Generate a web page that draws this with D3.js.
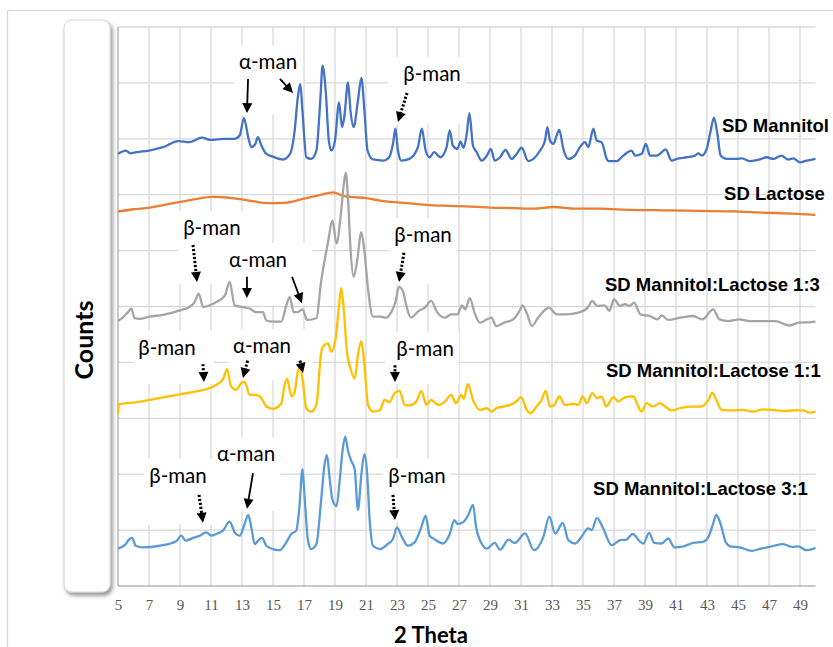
<!DOCTYPE html>
<html><head><meta charset="utf-8">
<script src="https://cdn.jsdelivr.net/npm/d3@7"></script>
<style>body{margin:0;background:#fff}svg{display:block}</style>
</head><body>
<svg id="chart" width="833" height="647"></svg>
<script>
// ---------- DATA (2θ, counts in arbitrary units; one grid step = 1) ----------
const xTickLabels = [5,7,9,11,13,15,17,19,21,23,25,27,29,31,33,35,37,39,41,43,45,47,49];
const yGridValues = [0,1,2,3,4,5,6,7,8,9,10];

const sdMannitol = [[5,7.73],[5.5,7.79],[5.8,7.74],[6.2,7.76],[7,7.79],[7.9,7.85],[8.9,7.96],[9.6,7.94],[10.4,8.02],[11,7.98],[11.8,8.0],[12.5,8.0],[12.85,8.06],[13.13,8.37],[13.4,8.03],[13.6,7.85],[13.86,7.91],[14.03,8.03],[14.25,7.88],[14.57,7.73],[15,7.68],[15.65,7.63],[16.1,7.73],[16.4,8.15],[16.6,8.74],[16.76,8.98],[16.9,8.5],[17.15,7.67],[17.47,7.64],[17.8,7.79],[18.05,8.68],[18.2,9.31],[18.4,8.86],[18.6,7.97],[18.76,7.79],[19,7.97],[19.26,8.65],[19.45,8.21],[19.6,8.39],[19.84,9.01],[20.0,8.5],[20.2,8.21],[20.48,8.68],[20.7,9.09],[20.9,8.5],[21.1,7.79],[21.45,7.63],[22.1,7.61],[22.5,7.67],[22.74,7.91],[22.9,8.18],[23.06,7.79],[23.28,7.61],[23.8,7.64],[24.35,7.85],[24.6,8.18],[24.85,7.79],[25.1,7.67],[25.4,7.76],[25.8,7.67],[26.2,7.85],[26.4,8.15],[26.6,7.88],[26.9,7.82],[27.1,7.95],[27.3,7.84],[27.5,8.09],[27.67,8.46],[27.9,7.88],[28.14,7.76],[28.46,7.61],[28.8,7.70],[29.06,7.82],[29.3,7.61],[29.65,7.67],[30.0,7.80],[30.4,7.64],[30.72,7.73],[31.04,7.84],[31.47,7.60],[31.8,7.64],[32.23,7.79],[32.55,7.97],[32.7,8.21],[32.87,7.97],[33.09,7.91],[33.3,8.06],[33.47,8.16],[33.73,7.82],[34.05,7.64],[34.48,7.70],[34.8,7.85],[35.13,7.94],[35.34,7.85],[35.67,8.18],[35.88,7.97],[36.2,7.94],[36.53,7.64],[36.63,7.60],[37.17,7.60],[37.6,7.70],[38.14,7.79],[38.35,7.70],[38.78,7.73],[39.06,7.91],[39.32,7.70],[39.75,7.70],[40.08,7.76],[40.33,7.81],[40.72,7.61],[41.04,7.64],[41.69,7.67],[42.23,7.70],[42.44,7.74],[42.66,7.70],[42.98,7.82],[43.24,8.15],[43.45,8.38],[43.67,8.09],[43.88,7.70],[44.27,7.64],[44.9,7.64],[45.24,7.65],[45.77,7.60],[46.4,7.63],[46.85,7.67],[47.27,7.64],[47.8,7.70],[48.25,7.63],[48.57,7.65],[49,7.58],[49.43,7.61],[49.86,7.63],[50,7.64]];

const sdLactose = [[5,6.70],[6,6.74],[7.06,6.77],[8,6.82],[9,6.87],[10,6.92],[11.1,6.96],[12,6.95],[12.87,6.92],[13.8,6.88],[14.6,6.85],[15.9,6.86],[17,6.93],[17.8,6.98],[18.9,7.04],[19.5,6.98],[20,6.96],[21,6.94],[22,6.89],[23.2,6.86],[24,6.84],[25.3,6.81],[26.5,6.80],[27.5,6.79],[29,6.77],[30.5,6.76],[31.8,6.75],[33.1,6.78],[34.5,6.75],[36.1,6.75],[38,6.73],[40.4,6.72],[42.5,6.71],[44.7,6.70],[46.5,6.68],[48.5,6.66],[50,6.64]];

const mix13 = [[5,4.74],[5.3,4.8],[5.65,4.90],[5.86,4.96],[6.08,4.79],[6.4,4.78],[7.04,4.82],[7.9,4.85],[9,4.93],[9.6,4.99],[9.95,5.08],[10.2,5.23],[10.5,4.99],[10.9,5.02],[11.35,5.08],[11.9,5.2],[12.2,5.44],[12.53,5.02],[13.06,4.99],[13.5,4.96],[13.9,4.9],[14.35,4.9],[14.57,4.75],[15,4.73],[15.54,4.73],[15.86,5.02],[16.08,5.17],[16.33,4.9],[16.6,4.9],[16.9,4.95],[17.2,4.76],[17.8,4.79],[18.1,5.44],[18.55,6.15],[18.83,6.54],[19.1,6.13],[19.37,6.63],[19.56,7.17],[19.69,7.39],[19.84,6.93],[20,6.04],[20.2,5.53],[20.42,5.8],[20.7,6.33],[20.9,5.98],[21.13,5.32],[21.45,4.82],[21.9,4.82],[22.3,4.80],[22.63,4.9],[22.9,5.08],[23.13,5.35],[23.4,5.26],[23.6,5.02],[23.9,4.80],[24.4,4.92],[24.8,4.98],[25.2,5.1],[25.6,4.89],[26.1,4.80],[26.5,4.86],[26.9,4.86],[27.2,5.02],[27.4,4.95],[27.7,5.15],[28.0,4.89],[28.35,4.71],[28.8,4.77],[29.1,4.80],[29.4,4.65],[29.9,4.71],[30.5,4.77],[30.9,4.92],[31.1,5.02],[31.4,4.86],[31.7,4.65],[32.1,4.80],[32.6,4.95],[32.8,4.98],[33.3,4.86],[33.9,4.86],[34.7,4.89],[35.3,4.98],[35.6,5.1],[35.9,5.01],[36.4,5.02],[36.7,4.92],[37.0,5.13],[37.4,5.01],[37.7,5.04],[38.0,5.01],[38.3,5.07],[38.7,4.86],[39.3,4.83],[39.8,4.77],[40.1,4.84],[40.5,4.76],[41.3,4.80],[42.1,4.83],[42.7,4.77],[43.4,4.95],[43.8,4.77],[44.4,4.74],[45.1,4.77],[45.7,4.74],[46.6,4.74],[47.4,4.74],[48.3,4.66],[48.9,4.71],[49.7,4.72],[50,4.73]];

const mix11 = [[5,3.08],[5.05,3.25],[6,3.28],[7.04,3.33],[8,3.38],[9,3.43],[10.05,3.48],[10.7,3.52],[11.35,3.6],[11.8,3.71],[12.03,3.88],[12.3,3.57],[12.6,3.51],[12.96,3.63],[13.17,3.65],[13.5,3.42],[13.9,3.42],[14.25,3.36],[14.57,3.21],[15,3.17],[15.54,3.27],[15.75,3.6],[15.9,3.71],[16.2,3.39],[16.4,3.48],[16.6,3.83],[16.76,3.92],[16.9,3.71],[17.15,3.18],[17.47,3.12],[17.8,3.24],[18.1,4.16],[18.3,4.31],[18.55,4.34],[18.76,4.19],[19.04,4.43],[19.26,5.02],[19.4,5.33],[19.56,4.96],[19.77,4.19],[20,3.89],[20.27,3.71],[20.48,4.13],[20.7,4.38],[20.9,3.95],[21.13,3.24],[21.45,3.12],[21.9,3.15],[22.2,3.33],[22.5,3.29],[22.85,3.45],[23.17,3.49],[23.5,3.24],[23.8,3.23],[24.25,3.30],[24.57,3.49],[24.9,3.24],[25.2,3.33],[25.65,3.24],[26.1,3.30],[26.5,3.42],[26.8,3.27],[27.15,3.42],[27.3,3.35],[27.58,3.61],[27.9,3.33],[28.35,3.15],[28.8,3.18],[29.1,3.12],[29.4,3.18],[29.86,3.21],[30.3,3.24],[30.7,3.30],[31.0,3.38],[31.37,3.15],[31.6,3.09],[32.0,3.21],[32.33,3.33],[32.6,3.49],[32.87,3.21],[33.15,3.24],[33.47,3.39],[33.84,3.24],[34.4,3.26],[34.7,3.24],[34.98,3.39],[35.24,3.27],[35.6,3.45],[35.9,3.36],[36.2,3.39],[36.5,3.21],[36.96,3.38],[37.28,3.30],[37.6,3.36],[38.0,3.39],[38.25,3.39],[38.57,3.21],[38.78,3.12],[39.1,3.27],[39.5,3.21],[39.97,3.27],[40.3,3.21],[40.7,3.14],[41.26,3.18],[41.9,3.21],[42.55,3.21],[43.1,3.33],[43.34,3.46],[43.6,3.33],[43.95,3.15],[44.7,3.14],[45.3,3.15],[45.99,3.12],[46.6,3.16],[47.26,3.15],[48.0,3.13],[48.6,3.14],[49.2,3.14],[49.6,3.10],[50,3.12]];

const mix31 = [[5,0.67],[5.43,0.73],[5.75,0.84],[5.92,0.86],[6.14,0.72],[6.6,0.69],[7.7,0.72],[8.76,0.80],[9.08,0.90],[9.37,0.81],[9.84,0.86],[10.27,0.90],[10.7,0.96],[11.02,0.90],[11.34,0.93],[11.77,0.99],[12.2,1.15],[12.53,0.96],[12.85,0.90],[13.17,1.11],[13.4,1.27],[13.6,1.05],[13.82,0.75],[14.03,0.81],[14.3,0.86],[14.57,0.72],[15,0.66],[15.43,0.64],[15.86,0.78],[16.18,0.93],[16.5,0.99],[16.7,1.40],[16.9,2.09],[17.04,1.58],[17.26,0.81],[17.47,0.66],[17.8,0.75],[18.1,1.52],[18.33,2.18],[18.48,2.34],[18.66,1.91],[18.83,1.55],[19.1,1.43],[19.3,1.88],[19.5,2.45],[19.66,2.67],[19.84,2.42],[20.05,2.24],[20.27,2.09],[20.48,1.36],[20.7,1.99],[20.9,2.36],[21.06,2.06],[21.24,1.17],[21.45,0.72],[21.9,0.66],[22.4,0.75],[22.74,0.84],[23.0,1.05],[23.28,0.90],[23.7,0.72],[24.14,0.78],[24.57,1.05],[24.85,1.26],[25.1,0.90],[25.4,0.84],[25.97,0.76],[26.4,0.93],[26.7,1.18],[26.9,1.11],[27.26,1.14],[27.6,1.27],[27.9,1.45],[28.1,1.06],[28.46,0.76],[28.8,0.67],[29.3,0.77],[29.65,0.65],[30.2,0.83],[30.6,0.77],[31.26,0.94],[31.84,0.64],[32.44,0.88],[32.83,1.24],[33.2,0.94],[33.7,1.13],[34.05,0.82],[34.5,0.76],[34.9,0.88],[35.34,1.03],[35.56,1.0],[35.9,1.22],[36.3,1.03],[36.85,0.73],[37.4,0.82],[37.8,0.83],[38.2,0.93],[38.7,0.79],[38.9,0.76],[39.26,0.95],[39.6,0.77],[40.07,0.76],[40.5,0.85],[40.9,0.69],[41.5,0.71],[42.1,0.77],[42.76,0.79],[43.1,0.88],[43.4,1.12],[43.6,1.27],[43.9,1.09],[44.2,0.79],[44.5,0.71],[45.1,0.69],[45.9,0.63],[46.5,0.67],[47.2,0.71],[47.9,0.75],[48.5,0.70],[48.9,0.71],[49.4,0.64],[49.9,0.67],[50,0.68]];

const seriesNames = ["SD Mannitol","SD Lactose","SD Mannitol:Lactose 1:3","SD Mannitol:Lactose 1:1","SD Mannitol:Lactose 3:1"];
const seriesData = [sdMannitol, sdLactose, mix13, mix11, mix31];
const seriesColors = ["#4472C4","#ED7D31","#A5A5A5","#FFC000","#5B9BD5"];
// label anchor (2θ start, counts baseline)
const seriesLabelPos = [[43.97,8.12],[44.1,6.91],[36.42,5.28],[36.48,3.74],[35.65,1.63]];

// annotations in data coordinates
const annotations = [
  {text:"α-man", at:[14.68,9.39], arrows:[{from:[13.39,9.07],to:[13.32,8.46],dot:false},{from:[15.45,9.07],to:[16.29,8.82],dot:false}]},
  {text:"β-man", at:[25.26,9.18], arrows:[{from:[23.65,8.82],to:[23.06,8.30],dot:true}]},
  {text:"β-man", at:[11.06,6.42], arrows:[{from:[9.84,6.10],to:[10.10,5.44],dot:true}]},
  {text:"α-man", at:[14.03,5.85], arrows:[{from:[13.32,5.53],to:[13.32,5.15],dot:false},{from:[16.23,5.53],to:[16.87,5.06],dot:false}]},
  {text:"β-man", at:[24.68,6.30], arrows:[{from:[23.45,5.96],to:[23.13,5.44],dot:true}]},
  {text:"β-man", at:[8.16,4.28], arrows:[{from:[10.48,3.97],to:[10.55,3.65],dot:true}]},
  {text:"α-man", at:[14.29,4.31], arrows:[{from:[13.36,4.03],to:[13.06,3.72],dot:true},{from:[16.74,4.03],to:[16.94,3.81],dot:true}]},
  {text:"β-man", at:[24.81,4.26], arrows:[{from:[22.87,3.95],to:[22.87,3.65],dot:true}]},
  {text:"β-man", at:[8.87,1.99], arrows:[{from:[10.23,1.63],to:[10.48,1.13],dot:true}]},
  {text:"α-man", at:[13.26,2.38], arrows:[{from:[13.71,2.02],to:[13.32,1.38],dot:false}]},
  {text:"β-man", at:[24.29,1.99], arrows:[{from:[22.74,1.63],to:[22.87,1.18],dot:true}]}
];

// ---------- DRAW ----------
const svg = d3.select("#chart");
const W = 833, H = 647;
const x = d3.scaleLinear().domain([5,50]).range([118,815.5]);
const y = d3.scaleLinear().domain([0,10]).range([586,27]);

const defs = svg.append("defs");
const f = defs.append("filter").attr("id","shadow").attr("x","-50%").attr("y","-10%").attr("width","200%").attr("height","120%");
f.append("feDropShadow").attr("dx",2).attr("dy",3).attr("stdDeviation",2.2).attr("flood-color","#000").attr("flood-opacity",0.45);

svg.append("rect").attr("width",W).attr("height",H).attr("fill","#fff");
// outer chart frame (extends beyond picture)
svg.append("rect").attr("x",7.5).attr("y",10.5).attr("width",900).attr("height",700)
  .attr("fill","none").attr("stroke","#d9d9d9").attr("stroke-width",1.2);

// y-axis title box
svg.append("rect").attr("x",64).attr("y",20).attr("width",46).attr("height",572).attr("rx",8)
  .attr("fill","#fff").attr("stroke","#d6d6d6").attr("stroke-width",1).attr("filter","url(#shadow)");
svg.append("text").attr("transform","translate(93,340) rotate(-90)")
  .attr("text-anchor","middle").attr("font-family","Lato, 'Open Sans', sans-serif")
  .attr("font-weight","bold").attr("font-size",25).attr("fill","#000").text("Counts");

// gridlines
const grid = svg.append("g");
grid.selectAll(".vg").data(xTickLabels).join("line")
  .attr("x1",d=>x(d)).attr("x2",d=>x(d)).attr("y1",y(10)).attr("y2",y(0))
  .attr("stroke","#d9d9d9").attr("stroke-width",1.3);
grid.selectAll(".hg").data(yGridValues).join("line")
  .attr("x1",x(5)).attr("x2",x(50)).attr("y1",d=>y(d)).attr("y2",d=>y(d))
  .attr("stroke","#d9d9d9").attr("stroke-width",1.3);

// annotation backgrounds (white text boxes)
const bgLayer = svg.append("g");

// axes lines
svg.append("line").attr("x1",x(5)).attr("x2",x(5)).attr("y1",y(10)).attr("y2",y(0)).attr("stroke","#bfbfbf").attr("stroke-width",1.5);
svg.append("line").attr("x1",x(5)).attr("x2",x(50)).attr("y1",y(0)).attr("y2",y(0)).attr("stroke","#bfbfbf").attr("stroke-width",1.5);

// x axis
const xAxis = d3.axisBottom(x).tickValues(xTickLabels).tickSize(0).tickPadding(13).tickFormat(d3.format("d"));
const xg = svg.append("g").attr("transform",`translate(0,${y(0)})`).call(xAxis);
xg.select(".domain").remove();
xg.selectAll("text").attr("font-family","'Liberation Serif', 'Times New Roman', serif").attr("font-size",15).attr("fill","#595959");

svg.append("text").attr("x",431).attr("y",643).attr("text-anchor","middle")
  .attr("font-family","Lato, 'Open Sans', sans-serif").attr("font-weight","bold").attr("font-size",22).text("2 Theta");

// series lines
const line = d3.line().x(d=>x(d[0])).y(d=>y(d[1])).curve(d3.curveMonotoneX);
const linesG = svg.append("g");
seriesData.forEach((s,i)=>{
  linesG.append("path").datum(s).attr("d",line).attr("fill","none")
    .attr("stroke",seriesColors[i]).attr("stroke-width",2.3).attr("stroke-linejoin","round");
});

// series labels
seriesNames.forEach((n,i)=>{
  svg.append("text").attr("x",x(seriesLabelPos[i][0])).attr("y",y(seriesLabelPos[i][1]))
    .attr("font-family","'Liberation Sans', Arial, sans-serif").attr("font-weight","bold")
    .attr("font-size",18.5).attr("fill","#000").text(n);
});

// annotations
const annTop = svg.append("g");
annotations.forEach(a=>{
  const g = annTop.append("g");
  const t = g.append("text").attr("x",x(a.at[0])).attr("y",y(a.at[1]))
    .attr("text-anchor","middle").attr("dominant-baseline","central")
    .attr("font-family","Lato, 'Open Sans', sans-serif").attr("font-size",20.5).attr("fill","#000").text(a.text);
  let bb = t.node().getBBox();
  let x0=bb.x, y0=bb.y, x1=bb.x+bb.width, y1=bb.y+bb.height;
  a.arrows.forEach(ar=>{
    const X1=x(ar.from[0]), Y1=y(ar.from[1]), X2=x(ar.to[0]), Y2=y(ar.to[1]);
    const dx=X2-X1, dy=Y2-Y1, L=Math.hypot(dx,dy), ux=dx/L, uy=dy/L;
    const hl=10, hw=5;
    const bx=X2-ux*hl, by=Y2-uy*hl;
    g.append("line").attr("x1",X1).attr("y1",Y1).attr("x2",bx+ux*1).attr("y2",by+uy*1)
      .attr("stroke","#000").attr("stroke-width",ar.dot?3:1.8)
      .attr("stroke-dasharray",ar.dot?"2.2,1.8":null);
    g.append("path").attr("d",`M${X2},${Y2}L${bx-uy*hw},${by+ux*hw}L${bx+uy*hw},${by-ux*hw}Z`).attr("fill","#000");
    x0=Math.min(x0,X1-hw,X2-hw); x1=Math.max(x1,X1+hw,X2+hw);
    y0=Math.min(y0,Y1,Y2); y1=Math.max(y1,Y1,Y2);
  });
  bgLayer.append("rect").attr("x",x0-5).attr("y",y0-4).attr("width",x1-x0+10).attr("height",y1-y0+6).attr("fill","#fff");
});
</script>
</body></html>
